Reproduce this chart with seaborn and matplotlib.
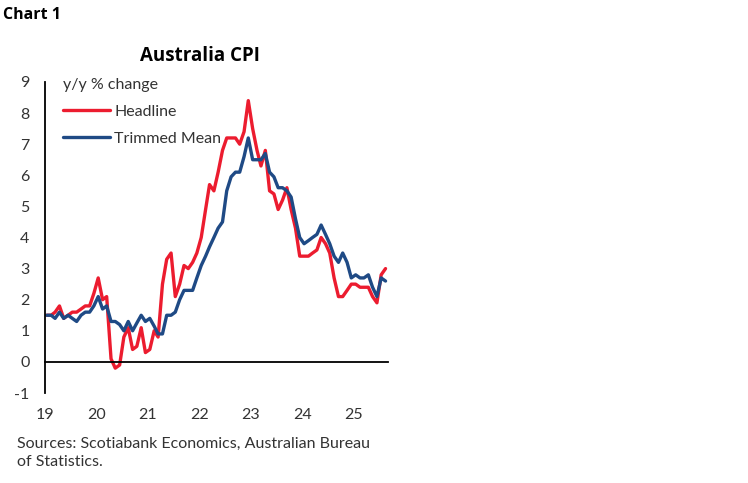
import pandas as pd
import numpy as np
import matplotlib
matplotlib.use("Agg")
import matplotlib.pyplot as plt
import seaborn as sns

# monthly y/y % change, Jan 2019 .. Aug 2025
headline = [1.5, 1.5, 1.6, 1.8, 1.4, 1.5, 1.6, 1.6, 1.7, 1.8, 1.8, 2.2,
            2.7, 2.0, 2.1, 0.1, -0.2, -0.1, 0.8, 1.1, 0.4, 0.5, 1.1, 0.3,
            0.4, 1.0, 0.8, 2.5, 3.3, 3.5, 2.1, 2.5, 3.1, 3.0, 3.2, 3.5,
            4.0, 4.9, 5.7, 5.5, 6.1, 6.8, 7.2, 7.2, 7.2, 7.0, 7.4, 8.4,
            7.5, 6.8, 6.3, 6.8, 5.5, 5.4, 4.9, 5.2, 5.6, 4.9, 4.3, 3.4,
            3.4, 3.4, 3.5, 3.6, 4.0, 3.8, 3.5, 2.7, 2.1, 2.1, 2.3, 2.5,
            2.5, 2.4, 2.4, 2.4, 2.1, 1.9, 2.8, 3.0]
trimmed = [1.5, 1.5, 1.4, 1.6, 1.4, 1.5, 1.4, 1.3, 1.5, 1.6, 1.6, 1.8,
           2.1, 1.7, 1.8, 1.3, 1.3, 1.2, 1.0, 1.3, 1.0, 1.25, 1.5, 1.3,
           1.4, 1.15, 0.9, 0.9, 1.5, 1.5, 1.6, 2.0, 2.3, 2.3, 2.3, 2.7,
           3.1, 3.4, 3.7, 4.0, 4.3, 4.5, 5.5, 5.95, 6.1, 6.1, 6.6, 7.2,
           6.5, 6.5, 6.5, 6.7, 6.1, 5.95, 5.6, 5.6, 5.5, 5.3, 4.6, 4.0,
           3.8, 3.9, 4.0, 4.1, 4.4, 4.1, 3.8, 3.4, 3.2, 3.5, 3.2, 2.7,
           2.8, 2.7, 2.7, 2.8, 2.4, 2.1, 2.7, 2.6]
dates = pd.date_range("2019-01-01", "2025-08-01", freq="MS") + pd.Timedelta(days=14)

years = [2019, 2020, 2021, 2022, 2023, 2024, 2025]
year_labels = ["19", "20", "21", "22", "23", "24", "25"]

df = pd.DataFrame({"date": dates, "Headline": headline, "Trimmed Mean": trimmed})
long = df.melt(id_vars="date", var_name="series", value_name="value")

sns.set_style("white")
plt.rcParams["font.family"] = ["Lato", "DejaVu Sans"]
plt.rcParams["axes.unicode_minus"] = False
text_col = "#333333"

fig = plt.figure(figsize=(7.48, 4.83), dpi=100)
ax = fig.add_axes([0.0599, 0.1863, 0.4591, 0.6440])

sns.lineplot(data=long, x="date", y="value", hue="series",
             palette={"Headline": "#EC1C2F", "Trimmed Mean": "#1F4A85"},
             linewidth=2.4, ax=ax)

ax.set_ylim(-1, 9)
ax.set_yticks(range(-1, 10))
ax.set_xlim(pd.Timestamp("2019-01-01"), pd.Timestamp("2025-09-03"))
ax.set_xticks([pd.Timestamp(f"{y}-01-01") for y in years])
ax.set_xticklabels(year_labels)
ax.set_xlabel("")
ax.set_ylabel("")

for s in ["top", "right"]:
    ax.spines[s].set_visible(False)
ax.spines["bottom"].set_position(("data", 0))
for s in ["left", "bottom"]:
    ax.spines[s].set_color("black")
    ax.spines[s].set_linewidth(1.3)
ax.tick_params(axis="both", direction="in", length=4, width=1.3, color="black",
               labelsize=11.5, labelcolor=text_col)
ax.tick_params(axis="y", pad=11)
ax.tick_params(axis="x", pad=33)

handles, labels = ax.get_legend_handles_labels()
leg = ax.legend(handles, labels, title="y/y % change", loc="upper left",
                bbox_to_anchor=(0.012, 1.06), frameon=False, fontsize=11.5,
                title_fontsize=11.5, handlelength=2.9, handletextpad=0.3,
                labelspacing=0.8, alignment="left")
for t in leg.get_texts():
    t.set_color(text_col)
leg.get_title().set_color(text_col)

fig.text(3 / 748, 1 - 15 / 483, "Chart 1", fontsize=11.5, fontweight="bold",
         family=["Open Sans", "DejaVu Sans"], va="center", ha="left", color="black")
fig.text(200 / 748, 1 - 56 / 483, "Australia CPI", fontsize=13.5, fontweight="bold",
         family=["Open Sans", "DejaVu Sans"], va="center", ha="center", color="black")
fig.text(17 / 748, 1 - 453 / 483,
         "Sources: Scotiabank Economics, Australian Bureau\nof Statistics.",
         fontsize=11.5, va="center", ha="left", color=text_col, linespacing=1.4)

fig.savefig("out.png", dpi=100)
